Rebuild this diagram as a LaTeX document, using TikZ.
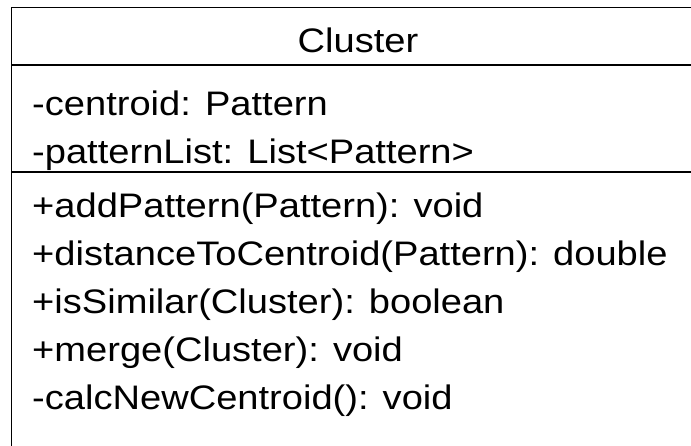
\documentclass[tikz,border=0pt]{standalone}
\usepackage{fontspec}
\setmainfont{Liberation Sans}
\usetikzlibrary{positioning}
\tikzset{
  frame/.style={draw=black,line width=1.6pt},
  sep/.style={draw=black,line width=1.6pt},
  member/.style={anchor=base west,inner sep=0pt,xscale=1.12,transform shape,font=\fontsize{34}{40}\selectfont},
  cname/.style={member,anchor=base},
}

\begin{document}
\begin{tikzpicture}[x=1pt,y=-1pt]
\useasboundingbox (0,0) rectangle (691,445);
\clip (0,0) rectangle (691,445);
% class frame (runs past the right and bottom edge)
\coordinate (nw) at (11.5,7.5);
\coordinate (se) at (705,470);
\draw[frame] (nw) rectangle (se);
\coordinate (s1w) at (11.5,65);  \coordinate (s1e) at (705,65);
\coordinate (s2w) at (11.5,172); \coordinate (s2e) at (705,172);
\draw[sep] (s1w) -- (s1e);
\draw[sep] (s2w) -- (s2e);
% name
\node[cname] (title) at (358,52) {Cluster};
% attributes
\node[member] (centroid) at (32,115) {-centroid: Pattern};
\node[member] (plist) at (32,163) {-patternList: List<Pattern>};
% operations
\node[member] (addp) at (32,217) {+addPattern(Pattern): void};
\node[member] (dist) at (32,265) {+distanceToCentroid(Pattern): double};
\node[member] (simil) at (32,313) {+isSimilar(Cluster): boolean};
\node[member] (merge) at (32,361) {+merge(Cluster): void};
\node[member] (calc) at (32,409) {-calcNewCentroid(): void};
\end{tikzpicture}
\end{document}
